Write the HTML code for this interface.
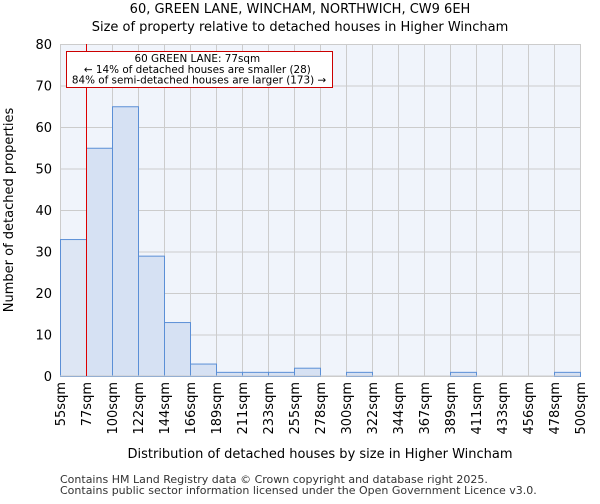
<!DOCTYPE html>
<html><head><meta charset="utf-8"><style>
body{margin:0;background:#fff;font-family:"DejaVu Sans","Liberation Sans",sans-serif}
</style></head><body>
<svg width="600" height="500" xmlns="http://www.w3.org/2000/svg" font-family="DejaVu Sans, Liberation Sans, sans-serif">
<text x="300" y="13" text-anchor="middle" font-size="13">60, GREEN LANE, WINCHAM, NORTHWICH, CW9 6EH</text>
<text x="300" y="31" text-anchor="middle" font-size="13">Size of property relative to detached houses in Higher Wincham</text>
<rect x="60" y="44" width="520" height="332" fill="#f0f4fb"/>
<g id="grid"></g><g id="bars"></g><g id="axes"></g>
<line x1="86.5" y1="44" x2="86.5" y2="376" stroke="#d00" stroke-width="1"/>
<rect x="66.5" y="51.5" width="266" height="36" fill="#fff" stroke="#c00" stroke-width="1"/>
<text font-size="10.4" text-anchor="middle">
<tspan x="199" y="62">60 GREEN LANE: 77sqm</tspan>
<tspan x="199" y="73">← 14% of detached houses are smaller (28)</tspan>
<tspan x="199" y="83.5">84% of semi-detached houses are larger (173) →</tspan></text>
<text transform="translate(13,210) rotate(-90)" text-anchor="middle" font-size="13">Number of detached properties</text>
<text x="320" y="458" text-anchor="middle" font-size="13">Distribution of detached houses by size in Higher Wincham</text>
<text x="60" y="483" font-size="11" fill="#333">Contains HM Land Registry data © Crown copyright and database right 2025.</text>
<text x="60" y="494" font-size="11" fill="#333">Contains public sector information licensed under the Open Government Licence v3.0.</text>
</svg>
<script>
const categories=["55sqm","77sqm","100sqm","122sqm","144sqm","166sqm","189sqm","211sqm","233sqm","255sqm","278sqm","300sqm","322sqm","344sqm","367sqm","389sqm","411sqm","433sqm","456sqm","478sqm","500sqm"];
const counts=[33,55,65,29,13,3,1,1,1,2,0,1,0,0,0,1,0,0,0,1];
const yTicks=[0,10,20,30,40,50,60,70,80];
const NS="http://www.w3.org/2000/svg";
const L=60,R=580,T=44,B=376,yMax=80;
const xs=i=>L+i*(R-L)/counts.length;
const ys=v=>B-v*(B-T)/yMax;
function mk(tag,attrs,parent){const e=document.createElementNS(NS,tag);for(const k in attrs)e.setAttribute(k,attrs[k]);parent.appendChild(e);return e;}
const grid=document.getElementById('grid'),bars=document.getElementById('bars'),axes=document.getElementById('axes');
yTicks.forEach(v=>{
 const l=mk('line',{x1:L,x2:R,y1:ys(v)+.5,y2:ys(v)+.5,stroke:'#ccc'},grid);
 
 
 const t=mk('text',{x:L-8,y:ys(v)+5,'text-anchor':'end','font-size':13},axes);
 t.textContent=v;
 
 
});
categories.forEach((c,i)=>{
 const x=xs(i);
 const l=mk('line',{x1:x+.5,x2:x+.5,y1:T,y2:B,stroke:'#ccc'},grid);
 
 
 const t=mk('text',{transform:`translate(${x+5},382) rotate(-90)`,'text-anchor':'end','font-size':13},axes);
 t.textContent=c;
 
 
});
counts.forEach((v,i)=>{
 if(v<=0)return;
 const b=mk('rect',{x:xs(i)+.5,y:ys(v)+.5,width:xs(i+1)-xs(i),height:B-ys(v),fill:i<1?'#dde6f4':'#d6e1f3',stroke:'#5b8fd6','stroke-width':1},bars);
 
 
});
const ax=mk('line',{x1:L,x2:R,y1:B,y2:B,stroke:'#ccc'},axes);


</script>
</body></html>
